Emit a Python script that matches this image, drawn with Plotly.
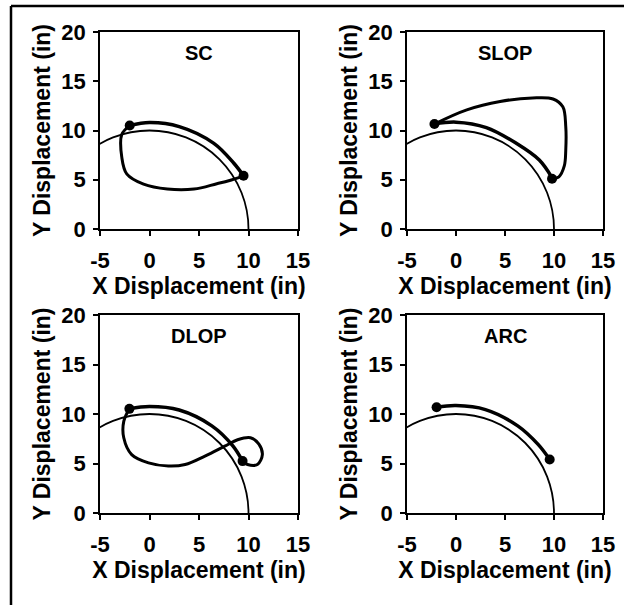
import plotly.graph_objects as go

# ---------------- data ----------------
PANELS = ["SC", "SLOP", "DLOP", "ARC"]
X_TICKS = [-5, 0, 5, 10, 15]
X_TICK_TEXT = ["-5", "0", "5", "10", "15"]
Y_TICKS = [0, 5, 10, 15, 20]
X_TITLE = "X Displacement (in)"
Y_TITLE = "Y Displacement (in)"
RADIUS = 10  # reference circle radius (in)

# SC
sc_arc_x = [-2.0, 0.0, 3.0, 6.5, 8.5, 9.5]
sc_arc_y = [10.5, 10.8, 10.4, 8.7, 6.7, 5.4]
sc_loop_x = [9.5, 8.0, 6.8, 4.5, 1.8, -0.6, -2.3, -2.8, -2.8, -2.0]
sc_loop_y = [5.4, 4.9, 4.6, 4.05, 4.05, 4.55, 5.6, 7.3, 9.6, 10.5]
sc_dot_x = [-2.0, 9.5]
sc_dot_y = [10.5, 5.4]

# SLOP
slop_arc_x = [-2.2, 0.0, 3.1, 6.15, 8.5, 9.8]
slop_arc_y = [10.66, 10.85, 10.3, 8.7, 7.0, 5.2]
slop_loop_x = [9.8, 10.5, 11.05, 11.2, 11.2, 10.9, 9.9, 7.8, 4.5, 1.1, -2.2]
slop_loop_y = [5.1, 5.3, 6.4, 8.0, 10.4, 12.4, 13.2, 13.3, 12.95, 12.1, 10.66]
slop_dot_x = [-2.2, 9.8]
slop_dot_y = [10.66, 5.1]

# DLOP
dlop_arc_x = [-2.03, 0.0, 3.0, 6.3, 8.4, 9.4]
dlop_arc_y = [10.52, 10.75, 10.4, 8.8, 6.8, 5.24]
dlop_loop_x = [9.4, 9.9, 10.9, 11.4, 11.05, 10.2, 8.9, 7.6, 5.6, 3.6, 1.9,
               -0.1, -1.8, -2.6, -2.6, -2.03]
dlop_loop_y = [5.24, 4.9, 4.9, 5.9, 6.95, 7.6, 7.4, 6.75, 5.75, 4.9, 4.75,
               5.07, 5.9, 7.6, 9.25, 10.52]
dlop_dot_x = [-2.03, 9.4]
dlop_dot_y = [10.52, 5.24]

# ARC
arc_arc_x = [-1.98, 0.0, 3.0, 6.3, 8.4, 9.56]
arc_arc_y = [10.68, 10.85, 10.45, 8.8, 6.9, 5.4]
arc_loop_x = []
arc_loop_y = []
arc_dot_x = [-1.98, 9.56]
arc_dot_y = [10.68, 5.4]

SERIES = {
    "SC": (sc_arc_x, sc_arc_y, sc_loop_x, sc_loop_y, sc_dot_x, sc_dot_y),
    "SLOP": (slop_arc_x, slop_arc_y, slop_loop_x, slop_loop_y, slop_dot_x, slop_dot_y),
    "DLOP": (dlop_arc_x, dlop_arc_y, dlop_loop_x, dlop_loop_y, dlop_dot_x, dlop_dot_y),
    "ARC": (arc_arc_x, arc_arc_y, arc_loop_x, arc_loop_y, arc_dot_x, arc_dot_y),
}

# ---------------- layout ----------------
W, H = 624, 605
COLS = [(100, 298), (407, 603)]
ROWS = [(32, 229), (315, 513)]
FONT = "Liberation Sans, Arial, sans-serif"

fig = go.Figure()
layout = dict(
    width=W, height=H, margin=dict(l=0, r=0, t=0, b=0, autoexpand=False),
    paper_bgcolor="white", plot_bgcolor="white", showlegend=False,
    font=dict(family=FONT, color="black"),
)
shapes = []
annotations = []

for i, name in enumerate(PANELS):
    r, c = divmod(i, 2)
    sfx = "" if i == 0 else str(i + 1)
    xa, ya = "x" + sfx, "y" + sfx
    ax, ay, lx, ly, dx, dy = SERIES[name]

    fig.add_trace(go.Scatter(x=ax, y=ay, mode="lines", xaxis=xa, yaxis=ya,
                             line=dict(color="black", width=3.5, shape="spline", smoothing=1.0),
                             hoverinfo="skip"))
    if lx:
        fig.add_trace(go.Scatter(x=lx, y=ly, mode="lines", xaxis=xa, yaxis=ya,
                                 line=dict(color="black", width=3, shape="spline", smoothing=1.0),
                                 hoverinfo="skip"))
    fig.add_trace(go.Scatter(x=dx, y=dy, mode="markers", xaxis=xa, yaxis=ya,
                             marker=dict(color="black", size=10), hoverinfo="skip"))

    shapes.append(dict(type="circle", xref=xa, yref=ya, x0=-RADIUS, y0=-RADIUS,
                       x1=RADIUS, y1=RADIUS, line=dict(color="black", width=1.8),
                       layer="below"))

    x0, x1 = COLS[c]
    y0, y1 = ROWS[r]
    xdom = [x0 / W, x1 / W]
    ydom = [1 - y1 / H, 1 - y0 / H]
    axis_common = dict(showgrid=False, zeroline=False, showline=True, mirror=True,
                       linecolor="black", linewidth=1.5, ticks="outside", ticklen=5,
                       tickwidth=1.5, tickcolor="black", automargin=False,
                       tickfont=dict(family=FONT, size=22, color="black", weight="bold"))
    layout["xaxis" + sfx] = dict(axis_common, domain=xdom, range=[-5, 15],
                                 tickvals=X_TICKS, ticktext=X_TICK_TEXT, anchor=ya,
                                 ticklabelstandoff=6,
                                 title=dict(text=X_TITLE,
                                            font=dict(family=FONT, size=23, weight="bold"),
                                            standoff=0))
    layout["yaxis" + sfx] = dict(axis_common, domain=ydom, range=[0, 20],
                                 tickvals=Y_TICKS, anchor=xa, ticklabelstandoff=3,
                                 title=dict(text=Y_TITLE,
                                            font=dict(family=FONT, size=23, weight="bold"),
                                            standoff=4))
    # companion axes that add the inner half of the crossing tick marks
    j = i + 5
    layout["xaxis%d" % j] = dict(overlaying=xa, anchor=ya, side="bottom", range=[-5, 15],
                                 tickvals=X_TICKS, ticks="inside", ticklen=5, tickwidth=1.5,
                                 tickcolor="black", showticklabels=False, showline=False,
                                 showgrid=False, zeroline=False, automargin=False)
    layout["yaxis%d" % j] = dict(overlaying=ya, anchor=xa, side="left", range=[0, 20],
                                 tickvals=Y_TICKS, ticks="inside", ticklen=5, tickwidth=1.5,
                                 tickcolor="black", showticklabels=False, showline=False,
                                 showgrid=False, zeroline=False, automargin=False)
    annotations.append(dict(text="<b>" + name + "</b>", xref=xa + " domain", yref=ya + " domain",
                            x=0.5, y=0.893, xanchor="center", yanchor="middle", showarrow=False,
                            font=dict(family=FONT, size=20, color="black")))

# outer frame (top and left edges visible in the reference)
FRAME_X = 11 / W
FRAME_Y = 1 - 6 / H
shapes.append(dict(type="line", xref="paper", yref="paper", x0=FRAME_X, x1=1.0,
                   y0=FRAME_Y, y1=FRAME_Y, line=dict(color="black", width=2.5)))
shapes.append(dict(type="line", xref="paper", yref="paper", x0=FRAME_X, x1=FRAME_X,
                   y0=0, y1=FRAME_Y, line=dict(color="black", width=2.5)))

layout["shapes"] = shapes
layout["annotations"] = annotations
fig.update_layout(**layout)
fig.write_html(
    "out.html",
    config={"displayModeBar": False},
    post_script="document.body.style.margin='0';document.body.style.overflow='hidden';",
)
